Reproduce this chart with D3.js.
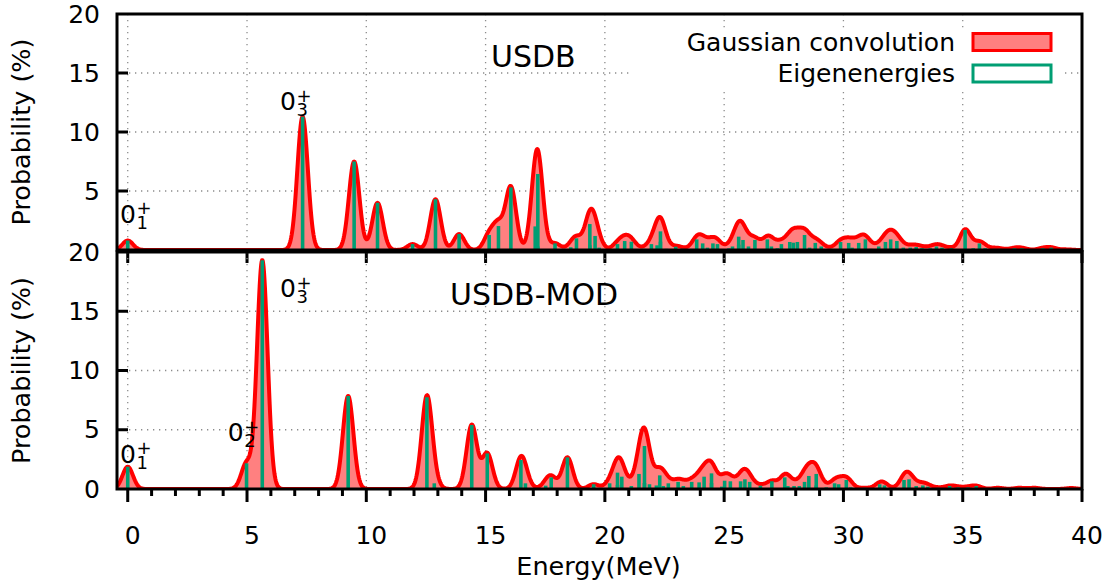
<!DOCTYPE html>
<html>
<head>
<meta charset="utf-8">
<script src="https://cdn.jsdelivr.net/npm/d3@7"></script>
<style>
  body { margin: 0; background: #fff; }
  svg { display: block; font-family: "DejaVu Sans", sans-serif; }
</style>
</head>
<body>
<svg id="chart" width="1107" height="586"></svg>
<script>
// tick values
const xTickValues = [0, 5, 10, 15, 20, 25, 30, 35, 40];
const xMinorTickValues = d3.range(0, 41, 1);
const yTickValues = [0, 5, 10, 15, 20];

// eigenenergies [energy MeV, probability %]
// (a few repeated energies are second states hidden under the same bar, seen from the curve height)
const usdbLevels = [
  [0, 0.8], [7.33, 11.3], [9.49, 7.5], [10.47, 4.0], [11.94, 0.5], [12.9, 4.3],
  [13.89, 1.35], [15.15, 1.27], [15.54, 2.03], [16.06, 5.3], [17.08, 2.0], [17.19, 6.44],
  [17.91, 0.56], [18.57, 0.23], [18.81, 0.99], [19.37, 2.2], [19.59, 1.19], [19.76, 0.2],
  [20.53, 0.5], [20.83, 0.76], [21.11, 0.7], [21.63, 0.1], [21.95, 0.5], [22.19, 0.4],
  [22.33, 1.58], [22.58, 0.1], [22.97, 0.28], [23.25, 0.1], [23.85, 0.9], [24.1, 0.56],
  [24.3, 0.2], [24.53, 0.56], [24.72, 0.5], [25.2, 0.14], [25.35, 0.3], [25.61, 1.13],
  [25.79, 0.85], [26.02, 0.3], [26.29, 0.85], [26.81, 0.9], [26.98, 0.3], [27.23, 0.15],
  [27.4, 0.5], [27.75, 0.68], [27.9, 0.62], [28.07, 0.68], [28.37, 1.27], [28.58, 0.2],
  [28.82, 0.6], [29.07, 0.3], [29.49, 0.1], [29.88, 0.68], [30.22, 0.6], [30.36, 0.2],
  [30.64, 0.6], [30.92, 0.9], [31.14, 0.1], [31.48, 0.3], [31.76, 0.68], [31.98, 0.9],
  [32.24, 0.76], [32.51, 0.2], [32.8, 0.2], [33.05, 0.25], [33.29, 0.15], [33.64, 0.15],
  [33.9, 0.3], [34.13, 0.2], [34.52, 0.15], [35.1, 1.7], [35.44, 0.15], [35.7, 0.56],
  [35.94, 0.15], [36.33, 0.1], [36.54, 0.1], [37.17, 0.15], [37.48, 0.15], [38.36, 0.15],
  [38.71, 0.2], [39.35, 0.05],
  [17.19, 0.3], [19.37, 0.4], [22.33, 0.7], [25.61, 0.45]
];

const usdbModLevels = [
  [0, 1.88], [4.98, 2.17], [5.64, 19.3], [9.24, 7.85], [12.54, 7.74], [12.85, 0.48],
  [14.42, 5.4], [15.07, 3.0], [16.48, 2.45], [16.67, 0.48], [17.52, 0.28], [17.75, 0.98],
  [18.43, 2.67], [19.53, 0.4], [20.2, 0.48], [20.53, 1.38], [20.71, 1.04], [21.11, 0.25],
  [21.43, 1.27], [21.66, 3.63], [21.87, 0.4], [22.16, 0.3], [22.3, 1.15], [22.45, 0.25],
  [22.66, 0.48], [23.07, 0.6], [23.29, 0.25], [23.64, 0.6], [23.95, 0.56], [24.16, 1.04],
  [24.47, 1.32], [24.9, 0.2], [25.02, 0.7], [25.26, 0.65], [25.69, 0.65], [25.87, 0.82],
  [26.07, 0.6], [26.52, 0.28], [27.0, 0.65], [27.54, 0.98], [27.67, 0.25], [27.93, 0.25],
  [28.15, 0.25], [28.37, 0.6], [28.55, 1.1], [28.86, 1.27], [29.28, 0.14], [29.63, 0.48],
  [29.8, 0.4], [30.12, 0.76], [30.3, 0.14], [30.89, 0.1], [31.52, 0.4], [31.72, 0.3],
  [32.54, 0.76], [32.75, 0.82], [33.05, 0.25], [33.33, 0.3], [33.54, 0.2], [33.96, 0.1],
  [34.45, 0.25], [34.8, 0.14], [35.22, 0.14], [35.57, 0.25], [36.47, 0.1], [37.38, 0.1],
  [38.0, 0.1], [39.55, 0.08],
  [20.53, 0.35], [21.66, 0.5], [24.47, 0.5], [28.86, 0.3]
];

// state labels: [main, sup, sub, energy, probability of the text baseline]
const usdbStateLabels = [["0", "+", "1", -0.32, 2.3], ["0", "+", "3", 6.38, 11.85]];
const usdbModStateLabels = [["0", "+", "1", -0.32, 2.2], ["0", "+", "2", 4.19, 4.05], ["0", "+", "3", 6.38, 16.2]];

const legendNames = ["Gaussian convolution", "Eigenenergies"];

const SIGMA = 0.22;     // gaussian width (MeV) of the convolution
const BAR_WIDTH = 0.15; // eigenenergy bar width (MeV)

const RED = "#ff0000";
const FILL = "#ff8080";
const GREEN = "#009e73";

class SpectrumChart {
    constructor(svgId) {
        this.svg = d3.select(svgId);
        this.left = 117;
        this.right = 1082;
        this.x = d3.scaleLinear().domain([-0.45, 40]).range([this.left, this.right]);
    }

    gaussianConvolution(levels) {
        const energies = d3.range(-0.45, 40.001, 0.02);
        const twoSigma2 = 2 * SIGMA * SIGMA;
        return energies.map(e => [e, d3.sum(levels, d => d[1] * Math.exp(-((e - d[0]) ** 2) / twoSigma2))]);
    }

    drawPanel(opts) {
        const x = this.x;
        const y = d3.scaleLinear().domain([0, 20]).range([opts.bottom, opts.top]);
        const g = this.svg.append("g");

        const clipId = "clip-" + opts.name;
        this.svg.append("clipPath").attr("id", clipId)
            .append("rect")
            .attr("x", this.left).attr("y", opts.top)
            .attr("width", this.right - this.left).attr("height", opts.bottom - opts.top);

        // dotted grid
        g.append("g").selectAll("line")
            .data(xTickValues.filter(v => v < 40))
            .enter().append("line")
            .attr("x1", d => x(d)).attr("x2", d => x(d))
            .attr("y1", opts.top).attr("y2", opts.bottom)
            .attr("stroke", "#8c8c8c").attr("stroke-width", 1.3)
            .attr("stroke-dasharray", "1.3,4.7");
        g.append("g").selectAll("line")
            .data([5, 10, 15])
            .enter().append("line")
            .attr("x1", this.left).attr("x2", this.right)
            .attr("y1", d => y(d)).attr("y2", d => y(d))
            .attr("stroke", "#8c8c8c").attr("stroke-width", 1.3)
            .attr("stroke-dasharray", "1.3,4.7");

        if (opts.legend) {
            // legend sits on a white box that hides the grid
            g.append("rect")
                .attr("x", 630).attr("y", 28).attr("width", 433).attr("height", 62)
                .attr("fill", "white");
        }

        const curve = this.gaussianConvolution(opts.levels);
        const plot = g.append("g").attr("clip-path", `url(#${clipId})`);

        plot.append("path")
            .datum(curve)
            .attr("fill", FILL)
            .attr("d", d3.area().x(d => x(d[0])).y0(y(0)).y1(d => y(d[1])));

        plot.append("path")
            .datum(curve)
            .attr("fill", "none")
            .attr("stroke", RED)
            .attr("stroke-width", 4)
            .attr("stroke-linejoin", "round")
            .attr("d", d3.line().x(d => x(d[0])).y(d => y(d[1])));

        plot.append("g").selectAll("rect")
            .data(opts.levels)
            .enter().append("rect")
            .attr("x", d => x(d[0] - BAR_WIDTH / 2))
            .attr("width", d => x(d[0] + BAR_WIDTH / 2) - x(d[0] - BAR_WIDTH / 2))
            .attr("y", d => y(d[1]))
            .attr("height", d => y(0) - y(d[1]))
            .attr("fill", GREEN);

        // frame
        g.append("rect")
            .attr("x", this.left).attr("y", opts.top)
            .attr("width", this.right - this.left).attr("height", opts.bottom - opts.top)
            .attr("fill", "none").attr("stroke", "black").attr("stroke-width", 3);

        // y ticks point inwards
        g.append("g").selectAll("line")
            .data([5, 10, 15])
            .enter().append("line")
            .attr("x1", this.left).attr("x2", this.left + 11)
            .attr("y1", d => y(d)).attr("y2", d => y(d))
            .attr("stroke", "black").attr("stroke-width", 3);

        g.append("g").selectAll("text")
            .data(yTickValues.filter(v => opts.showZero || v > 0))
            .enter().append("text")
            .attr("x", 100).attr("y", d => y(d))
            .attr("text-anchor", "end")
            .attr("dominant-baseline", "central")
            .attr("font-size", 25)
            .text(d => d);

        // x ticks point outwards (down)
        g.append("g").selectAll("line")
            .data(xTickValues)
            .enter().append("line")
            .attr("x1", d => x(d)).attr("x2", d => x(d))
            .attr("y1", opts.bottom).attr("y2", opts.bottom + 13)
            .attr("stroke", "black").attr("stroke-width", 3);

        if (opts.xLabels) {
            g.append("g").selectAll("line")
                .data(xMinorTickValues.filter(v => v % 5 !== 0))
                .enter().append("line")
                .attr("x1", d => x(d)).attr("x2", d => x(d))
                .attr("y1", opts.bottom).attr("y2", opts.bottom + 7)
                .attr("stroke", "black").attr("stroke-width", 3);

            g.append("g").selectAll("text")
                .data(xTickValues)
                .enter().append("text")
                .attr("x", d => x(d) + 5).attr("y", opts.bottom + 55)
                .attr("text-anchor", "middle")
                .attr("font-size", 25)
                .text(d => d);

            g.append("text")
                .attr("x", (this.left + this.right) / 2 - 1).attr("y", 575)
                .attr("text-anchor", "middle")
                .attr("font-size", 25.5)
                .text("Energy(MeV)");
        }

        g.append("text")
            .attr("transform", `translate(30,${(opts.top + opts.bottom) / 2}) rotate(-90)`)
            .attr("text-anchor", "middle")
            .attr("font-size", 25.5)
            .text("Probability (%)");

        g.append("text")
            .attr("x", opts.titlePos[0]).attr("y", opts.titlePos[1])
            .attr("font-size", 30)
            .text(opts.title);

        this.stateLabels(g, opts.stateLabels, y);
        return g;
    }

    // "0" with a stacked superscript and subscript, kept as one text
    stateLabels(g, labels, y) {
        const x = this.x;
        labels.forEach(([main, sup, sub, energy, prob]) => {
            const px = x(energy);
            const py = y(prob);
            const t = g.append("text").attr("x", px).attr("y", py).attr("font-size", 25);
            t.append("tspan").text(main);
            t.append("tspan").attr("x", px + 16.5).attr("y", py - 8.5).attr("font-size", 18).text(sup);
            t.append("tspan").attr("x", px + 16.5).attr("y", py + 6).attr("font-size", 18).text(sub);
        });
    }

    legend() {
        const g = this.svg.append("g");
        const rows = [
            {name: legendNames[0], fill: FILL, stroke: RED, y: 42},
            {name: legendNames[1], fill: "white", stroke: GREEN, y: 73.5}
        ];
        rows.forEach(r => {
            g.append("text")
                .attr("x", 955).attr("y", r.y)
                .attr("text-anchor", "end")
                .attr("dominant-baseline", "central")
                .attr("font-size", 25)
                .text(r.name);
            g.append("rect")
                .attr("x", 973).attr("y", r.y - 8.5)
                .attr("width", 78).attr("height", 17)
                .attr("fill", r.fill).attr("stroke", r.stroke).attr("stroke-width", 3);
        });
    }

    render() {
        this.drawPanel({name: "usdb", top: 14, bottom: 250, levels: usdbLevels,
            title: "USDB", titlePos: [491, 67], stateLabels: usdbStateLabels,
            legend: true, showZero: false, xLabels: false});
        this.drawPanel({name: "usdbmod", top: 252, bottom: 489, levels: usdbModLevels,
            title: "USDB-MOD", titlePos: [450, 305], stateLabels: usdbModStateLabels,
            legend: false, showZero: true, xLabels: true});
        this.legend();
    }
}

new SpectrumChart("#chart").render();
</script>
</body>
</html>
